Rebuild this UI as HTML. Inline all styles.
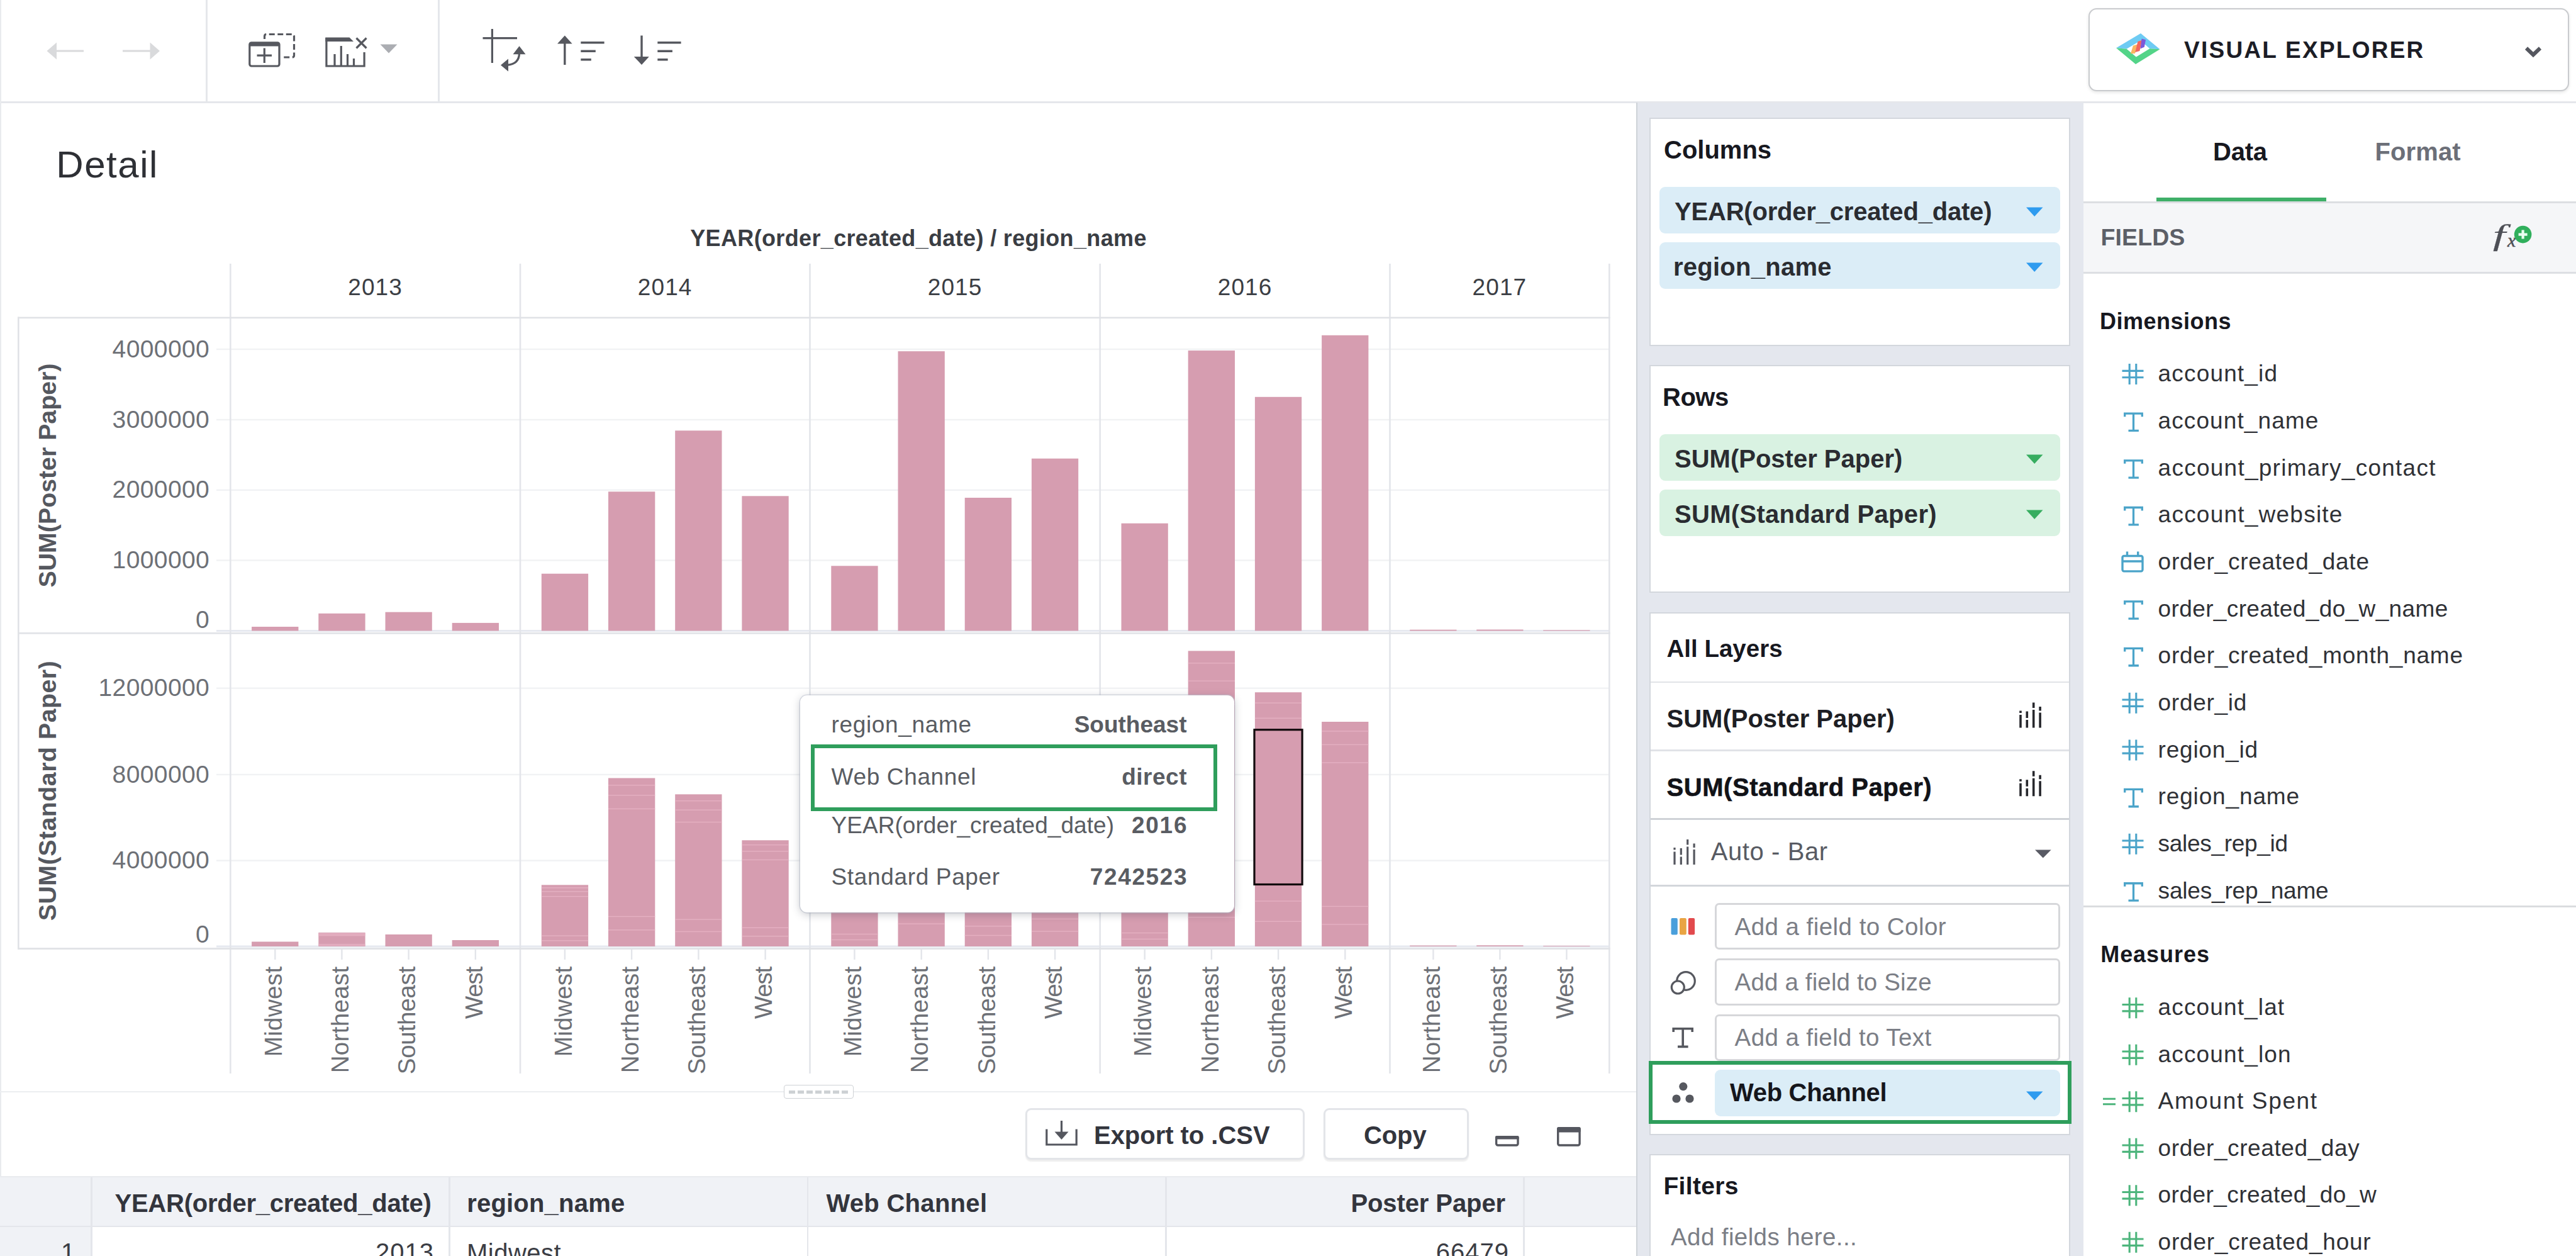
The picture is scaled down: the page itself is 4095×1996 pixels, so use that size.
<!DOCTYPE html><html><head><meta charset="utf-8"><title>Visual Explorer</title><style>
html,body{margin:0;padding:0;}
body{width:4095px;height:1996px;overflow:hidden;background:#fff;position:relative;font-family:"Liberation Sans",sans-serif;}
.t{position:absolute;white-space:pre;line-height:1;}
.a{position:absolute;}
svg{position:absolute;overflow:visible;}
</style></head><body>
<div id="toolbar" class="a" style="left:0;top:0;width:4095px;height:161px;background:#fff;border-bottom:3px solid #e5e7eb;"></div>
<div class="a" style="left:0;top:0;width:2px;height:1996px;background:#e9ebee;"></div>
<div class="a" style="left:327px;top:0;width:3px;height:161px;background:#e5e7eb;"></div>
<div class="a" style="left:696px;top:0;width:3px;height:161px;background:#e5e7eb;"></div>
<svg class="tb-icons" style="left:0;top:0" width="1200" height="161" viewBox="0 0 1200 161">
<g fill="#d9dadc" stroke="none">
 <rect x="88" y="79.5" width="45" height="3"/><path d="M74.5 81 L90 67.5 L90 94.5 Z"/>
 <rect x="195" y="79.5" width="45" height="3"/><path d="M254 81 L238.5 67.5 L238.5 94.5 Z"/>
</g>
<!-- duplicate -->
<g fill="none" stroke="#56585f" stroke-width="3.2">
 <path d="M420.5 66 V57.5 Q420.5 54.5 423.5 54.5 H464.5 Q467.5 54.5 467.5 57.5 V88 Q467.5 91 464.5 91 H451" stroke-dasharray="9 4.5" stroke-dashoffset="-4"/>
 <rect x="396.8" y="67.8" width="47.2" height="37.2" rx="3"/>
 <path d="M396.8 70.5 H444" stroke-width="6"/>
 <path d="M408.5 88.2 H432 M420.3 76.5 V100"/>
</g>
<!-- chart with x -->
<g fill="none" stroke="#56585f" stroke-width="3.2">
 <path d="M518.9 60 V105 H579.1 V83"/>
 <path d="M532 86 V105 M542.3 73 V105 M552.5 86 V105 M562.5 93 V105" />
 <path d="M566.5 60.5 L582.5 76.5 M582.5 60.5 L566.5 76.5"/>
</g>
<path d="M517.3 59.4 H555.5 L562 66 H517.3 Z" fill="#56585f"/>
<path d="M604.5 70.5 H631.5 L618 84.5 Z" fill="#abadb2"/>
<!-- swap -->
<g fill="none" stroke="#56585f" stroke-width="3.2">
 <path d="M782.4 46 V100 M767.5 60.7 H822"/>
 <path d="M806 103.4 Q825.5 102 825.5 84"/>
</g>
<path d="M796 103.4 L808 93.4 L808 113.4 Z M825.5 73.3 L815.5 86.3 L835.5 86.3 Z" fill="#56585f"/>
<!-- sort asc -->
<g fill="none" stroke="#56585f" stroke-width="3.4">
 <path d="M897.8 66 V103"/>
 <path d="M923.3 67.7 H960.6 M923.3 81.3 H946.8 M923.3 94.7 H939.8"/>
 <path d="M1020 56.5 V92"/>
 <path d="M1045.3 67.7 H1082.6 M1045.3 81.3 H1068.9 M1045.3 94.7 H1061.6"/>
</g>
<path d="M897.8 56.5 L886 69.5 H909.6 Z M1020 103 L1007.8 90 H1031.8 Z" fill="#56585f"/>
</svg>
<div id="ve" class="a" style="left:3320px;top:13px;width:760px;height:128px;border:2px solid #c9cbce;border-radius:13px;background:#fff;box-shadow:0 2px 5px rgba(0,0,0,.10);"></div>
<svg id="logo" style="left:3355px;top:45px" width="90" height="66" viewBox="3355 45 90 66">
<path d="M3364 76.2 L3403 53 L3433.5 78.2 L3417.4 77.2 L3402.9 64.4 L3380.6 77.8 Z" fill="#6ecbf3"/>
<path d="M3364 76.2 L3380.6 77.8 L3395.8 90.4 L3417.4 77.2 L3433.5 78.2 L3395 102 Z" fill="#53d488"/>
<path d="M3387 85.2 L3394 85 L3398 70.6 L3391 72.4 Z" fill="#fbb660"/>
<path d="M3394.2 83 L3401.4 81 L3405.2 63.8 L3398.4 66 Z" fill="#f3655f"/>
<path d="M3402.4 77.4 L3408.8 74.8 L3411 63.2 L3404.6 61.4 Z" fill="#7b58d9"/>
</svg>
<div class="t " style="top:61.2px;font-size:37px;font-weight:700;color:#1c1d26;letter-spacing:2.25px;left:3472.0px;">VISUAL EXPLORER</div>
<svg style="left:4008px;top:68px" width="40" height="30" viewBox="4008 68 40 30"><path d="M4016 76.5 L4027 87 L4038 76.5" fill="none" stroke="#55575f" stroke-width="6" stroke-linejoin="miter"/></svg>
<div class="t " style="top:231.8px;font-size:60px;font-weight:400;color:#2e3035;letter-spacing:1.55px;left:89.3px;">Detail</div>
<svg id="chart" style="left:0;top:0" width="2600" height="1740" viewBox="0 0 2600 1740" font-family='"Liberation Sans", sans-serif'>
<rect x="344" y="553.8" width="2214.3" height="2.4" fill="#f1f2f4"/>
<rect x="344" y="665.8" width="2214.3" height="2.4" fill="#f1f2f4"/>
<rect x="344" y="777.6" width="2214.3" height="2.4" fill="#f1f2f4"/>
<rect x="344" y="889.3" width="2214.3" height="2.4" fill="#f1f2f4"/>
<rect x="344" y="1092.5" width="2214.3" height="2.4" fill="#f1f2f4"/>
<rect x="344" y="1229.8" width="2214.3" height="2.4" fill="#f1f2f4"/>
<rect x="344" y="1366.4" width="2214.3" height="2.4" fill="#f1f2f4"/>
<rect x="344" y="1001.0" width="2214.3" height="3" fill="#e6e9f0"/>
<rect x="344" y="1502.5" width="2214.3" height="3" fill="#e6e9f0"/>
<rect x="365.0" y="419" width="2.6" height="1287" fill="#e3e5ea"/>
<rect x="825.7" y="419" width="2.6" height="1287" fill="#e3e5ea"/>
<rect x="1286.2" y="419" width="2.6" height="1287" fill="#e3e5ea"/>
<rect x="1747.4" y="419" width="2.6" height="1287" fill="#e3e5ea"/>
<rect x="2208.2" y="419" width="2.6" height="1287" fill="#e3e5ea"/>
<rect x="2557.0" y="419" width="2.6" height="1287" fill="#e3e5ea"/>
<rect x="28" y="503.6" width="2531.6" height="2.6" fill="#e0e2e6"/>
<rect x="28" y="1005" width="2531.6" height="2.6" fill="#e0e2e6"/>
<rect x="28" y="1506.2" width="2531.6" height="2.8" fill="#e0e2e6"/>
<rect x="28" y="503.6" width="2.6" height="1005.4" fill="#e0e2e6"/>
<rect x="400.1" y="996" width="74.3" height="6.5" fill="#d69db0"/>
<rect x="506.3" y="974.9" width="74.3" height="27.6" fill="#d69db0"/>
<rect x="612.5" y="972.7" width="74.3" height="29.8" fill="#d69db0"/>
<rect x="718.7" y="989.9" width="74.3" height="12.6" fill="#d69db0"/>
<rect x="400.1" y="1496.5" width="74.3" height="7.5" fill="#d69db0"/>
<rect x="506.3" y="1482" width="74.3" height="22.0" fill="#d69db0"/>
<rect x="506.3" y="1482.9" width="74.3" height="1.4" fill="#e8b4c6" opacity=".85"/>
<rect x="506.3" y="1484.2" width="74.3" height="1.4" fill="#e8b4c6" opacity=".85"/>
<rect x="506.3" y="1486.0" width="74.3" height="1.4" fill="#e8b4c6" opacity=".85"/>
<rect x="506.3" y="1500.0" width="74.3" height="1.4" fill="#e8b4c6" opacity=".85"/>
<rect x="506.3" y="1501.8" width="74.3" height="1.4" fill="#e8b4c6" opacity=".85"/>
<rect x="612.5" y="1485" width="74.3" height="19.0" fill="#d69db0"/>
<rect x="718.7" y="1494" width="74.3" height="10.0" fill="#d69db0"/>
<rect x="860.8" y="911.7" width="74.3" height="90.8" fill="#d69db0"/>
<rect x="967.0" y="781.3" width="74.3" height="221.2" fill="#d69db0"/>
<rect x="1073.2" y="684.3" width="74.3" height="318.2" fill="#d69db0"/>
<rect x="1179.4" y="788.3" width="74.3" height="214.2" fill="#d69db0"/>
<rect x="860.8" y="1406.3" width="74.3" height="97.7" fill="#d69db0"/>
<rect x="860.8" y="1410.2" width="74.3" height="1.4" fill="#e8b4c6" opacity=".85"/>
<rect x="860.8" y="1416.1" width="74.3" height="1.4" fill="#e8b4c6" opacity=".85"/>
<rect x="860.8" y="1423.9" width="74.3" height="1.4" fill="#e8b4c6" opacity=".85"/>
<rect x="860.8" y="1486.4" width="74.3" height="1.4" fill="#e8b4c6" opacity=".85"/>
<rect x="860.8" y="1494.2" width="74.3" height="1.4" fill="#e8b4c6" opacity=".85"/>
<rect x="967.0" y="1236.5" width="74.3" height="267.5" fill="#d69db0"/>
<rect x="967.0" y="1247.2" width="74.3" height="1.4" fill="#e8b4c6" opacity=".85"/>
<rect x="967.0" y="1263.2" width="74.3" height="1.4" fill="#e8b4c6" opacity=".85"/>
<rect x="967.0" y="1284.7" width="74.3" height="1.4" fill="#e8b4c6" opacity=".85"/>
<rect x="967.0" y="1455.8" width="74.3" height="1.4" fill="#e8b4c6" opacity=".85"/>
<rect x="967.0" y="1477.2" width="74.3" height="1.4" fill="#e8b4c6" opacity=".85"/>
<rect x="1073.2" y="1262.3" width="74.3" height="241.7" fill="#d69db0"/>
<rect x="1073.2" y="1272.0" width="74.3" height="1.4" fill="#e8b4c6" opacity=".85"/>
<rect x="1073.2" y="1286.5" width="74.3" height="1.4" fill="#e8b4c6" opacity=".85"/>
<rect x="1073.2" y="1305.8" width="74.3" height="1.4" fill="#e8b4c6" opacity=".85"/>
<rect x="1073.2" y="1460.5" width="74.3" height="1.4" fill="#e8b4c6" opacity=".85"/>
<rect x="1073.2" y="1479.8" width="74.3" height="1.4" fill="#e8b4c6" opacity=".85"/>
<rect x="1179.4" y="1335.3" width="74.3" height="168.7" fill="#d69db0"/>
<rect x="1179.4" y="1342.0" width="74.3" height="1.4" fill="#e8b4c6" opacity=".85"/>
<rect x="1179.4" y="1352.2" width="74.3" height="1.4" fill="#e8b4c6" opacity=".85"/>
<rect x="1179.4" y="1365.7" width="74.3" height="1.4" fill="#e8b4c6" opacity=".85"/>
<rect x="1179.4" y="1473.6" width="74.3" height="1.4" fill="#e8b4c6" opacity=".85"/>
<rect x="1179.4" y="1487.1" width="74.3" height="1.4" fill="#e8b4c6" opacity=".85"/>
<rect x="1321.3" y="899.3" width="74.3" height="103.2" fill="#d69db0"/>
<rect x="1427.5" y="558.2" width="74.3" height="444.3" fill="#d69db0"/>
<rect x="1533.7" y="791" width="74.3" height="211.5" fill="#d69db0"/>
<rect x="1639.9" y="728.7" width="74.3" height="273.8" fill="#d69db0"/>
<rect x="1321.3" y="1392" width="74.3" height="112.0" fill="#d69db0"/>
<rect x="1321.3" y="1396.5" width="74.3" height="1.4" fill="#e8b4c6" opacity=".85"/>
<rect x="1321.3" y="1403.2" width="74.3" height="1.4" fill="#e8b4c6" opacity=".85"/>
<rect x="1321.3" y="1412.2" width="74.3" height="1.4" fill="#e8b4c6" opacity=".85"/>
<rect x="1321.3" y="1483.8" width="74.3" height="1.4" fill="#e8b4c6" opacity=".85"/>
<rect x="1321.3" y="1492.8" width="74.3" height="1.4" fill="#e8b4c6" opacity=".85"/>
<rect x="1427.5" y="1138" width="74.3" height="366.0" fill="#d69db0"/>
<rect x="1427.5" y="1152.6" width="74.3" height="1.4" fill="#e8b4c6" opacity=".85"/>
<rect x="1427.5" y="1174.6" width="74.3" height="1.4" fill="#e8b4c6" opacity=".85"/>
<rect x="1427.5" y="1203.9" width="74.3" height="1.4" fill="#e8b4c6" opacity=".85"/>
<rect x="1427.5" y="1438.1" width="74.3" height="1.4" fill="#e8b4c6" opacity=".85"/>
<rect x="1427.5" y="1467.4" width="74.3" height="1.4" fill="#e8b4c6" opacity=".85"/>
<rect x="1533.7" y="1322" width="74.3" height="182.0" fill="#d69db0"/>
<rect x="1533.7" y="1329.3" width="74.3" height="1.4" fill="#e8b4c6" opacity=".85"/>
<rect x="1533.7" y="1340.2" width="74.3" height="1.4" fill="#e8b4c6" opacity=".85"/>
<rect x="1533.7" y="1354.8" width="74.3" height="1.4" fill="#e8b4c6" opacity=".85"/>
<rect x="1533.7" y="1471.2" width="74.3" height="1.4" fill="#e8b4c6" opacity=".85"/>
<rect x="1533.7" y="1485.8" width="74.3" height="1.4" fill="#e8b4c6" opacity=".85"/>
<rect x="1639.9" y="1258" width="74.3" height="246.0" fill="#d69db0"/>
<rect x="1639.9" y="1267.8" width="74.3" height="1.4" fill="#e8b4c6" opacity=".85"/>
<rect x="1639.9" y="1282.6" width="74.3" height="1.4" fill="#e8b4c6" opacity=".85"/>
<rect x="1639.9" y="1302.3" width="74.3" height="1.4" fill="#e8b4c6" opacity=".85"/>
<rect x="1639.9" y="1459.7" width="74.3" height="1.4" fill="#e8b4c6" opacity=".85"/>
<rect x="1639.9" y="1479.4" width="74.3" height="1.4" fill="#e8b4c6" opacity=".85"/>
<rect x="1782.5" y="831.7" width="74.3" height="170.8" fill="#d69db0"/>
<rect x="1888.7" y="557.1" width="74.3" height="445.4" fill="#d69db0"/>
<rect x="1994.9" y="630.8" width="74.3" height="371.7" fill="#d69db0"/>
<rect x="2101.1" y="532.8" width="74.3" height="469.7" fill="#d69db0"/>
<rect x="1782.5" y="1381" width="74.3" height="123.0" fill="#d69db0"/>
<rect x="1782.5" y="1385.9" width="74.3" height="1.4" fill="#e8b4c6" opacity=".85"/>
<rect x="1782.5" y="1393.3" width="74.3" height="1.4" fill="#e8b4c6" opacity=".85"/>
<rect x="1782.5" y="1403.1" width="74.3" height="1.4" fill="#e8b4c6" opacity=".85"/>
<rect x="1782.5" y="1481.9" width="74.3" height="1.4" fill="#e8b4c6" opacity=".85"/>
<rect x="1782.5" y="1491.7" width="74.3" height="1.4" fill="#e8b4c6" opacity=".85"/>
<rect x="1888.7" y="1034.4" width="74.3" height="469.6" fill="#d69db0"/>
<rect x="1888.7" y="1053.2" width="74.3" height="1.4" fill="#e8b4c6" opacity=".85"/>
<rect x="1888.7" y="1081.4" width="74.3" height="1.4" fill="#e8b4c6" opacity=".85"/>
<rect x="1888.7" y="1118.9" width="74.3" height="1.4" fill="#e8b4c6" opacity=".85"/>
<rect x="1888.7" y="1419.5" width="74.3" height="1.4" fill="#e8b4c6" opacity=".85"/>
<rect x="1888.7" y="1457.0" width="74.3" height="1.4" fill="#e8b4c6" opacity=".85"/>
<rect x="1994.9" y="1100.2" width="74.3" height="403.8" fill="#d69db0"/>
<rect x="1994.9" y="1116.4" width="74.3" height="1.4" fill="#e8b4c6" opacity=".85"/>
<rect x="1994.9" y="1140.6" width="74.3" height="1.4" fill="#e8b4c6" opacity=".85"/>
<rect x="1994.9" y="1172.9" width="74.3" height="1.4" fill="#e8b4c6" opacity=".85"/>
<rect x="1994.9" y="1431.3" width="74.3" height="1.4" fill="#e8b4c6" opacity=".85"/>
<rect x="1994.9" y="1463.6" width="74.3" height="1.4" fill="#e8b4c6" opacity=".85"/>
<rect x="2101.1" y="1147" width="74.3" height="357.0" fill="#d69db0"/>
<rect x="2101.1" y="1161.3" width="74.3" height="1.4" fill="#e8b4c6" opacity=".85"/>
<rect x="2101.1" y="1182.7" width="74.3" height="1.4" fill="#e8b4c6" opacity=".85"/>
<rect x="2101.1" y="1211.3" width="74.3" height="1.4" fill="#e8b4c6" opacity=".85"/>
<rect x="2101.1" y="1439.7" width="74.3" height="1.4" fill="#e8b4c6" opacity=".85"/>
<rect x="2101.1" y="1468.3" width="74.3" height="1.4" fill="#e8b4c6" opacity=".85"/>
<rect x="2241.2" y="1000.7" width="74.3" height="1.8" fill="#d69db0"/>
<rect x="2347.2" y="1000.5" width="74.3" height="2.0" fill="#d69db0"/>
<rect x="2453.2" y="1001.3" width="74.3" height="1.2" fill="#d69db0"/>
<rect x="2241.2" y="1502.6" width="74.3" height="1.4" fill="#d69db0"/>
<rect x="2347.2" y="1502.3" width="74.3" height="1.7" fill="#d69db0"/>
<rect x="2453.2" y="1503" width="74.3" height="1.0" fill="#d69db0"/>
<rect x="1994.0" y="1159.7" width="76.1" height="245.8" fill="#d69db0" stroke="#120a0d" stroke-width="3.2"/>
<rect x="436.1" y="1509" width="2.4" height="16" fill="#e3e5ea"/>
<text transform="translate(447.9,1535.8) rotate(-90)" text-anchor="end" font-size="38.5" textLength="143.5" lengthAdjust="spacing" fill="#6d7076">Midwest</text>
<rect x="542.2" y="1509" width="2.4" height="16" fill="#e3e5ea"/>
<text transform="translate(554.1,1535.8) rotate(-90)" text-anchor="end" font-size="38.5" textLength="169.5" lengthAdjust="spacing" fill="#6d7076">Northeast</text>
<rect x="648.4" y="1509" width="2.4" height="16" fill="#e3e5ea"/>
<text transform="translate(660.2,1535.8) rotate(-90)" text-anchor="end" font-size="38.5" textLength="171.5" lengthAdjust="spacing" fill="#6d7076">Southeast</text>
<rect x="754.6" y="1509" width="2.4" height="16" fill="#e3e5ea"/>
<text transform="translate(766.5,1535.8) rotate(-90)" text-anchor="end" font-size="38.5" textLength="83.5" lengthAdjust="spacing" fill="#6d7076">West</text>
<rect x="896.7" y="1509" width="2.4" height="16" fill="#e3e5ea"/>
<text transform="translate(908.5,1535.8) rotate(-90)" text-anchor="end" font-size="38.5" textLength="143.5" lengthAdjust="spacing" fill="#6d7076">Midwest</text>
<rect x="1002.9" y="1509" width="2.4" height="16" fill="#e3e5ea"/>
<text transform="translate(1014.8,1535.8) rotate(-90)" text-anchor="end" font-size="38.5" textLength="169.5" lengthAdjust="spacing" fill="#6d7076">Northeast</text>
<rect x="1109.2" y="1509" width="2.4" height="16" fill="#e3e5ea"/>
<text transform="translate(1121.0,1535.8) rotate(-90)" text-anchor="end" font-size="38.5" textLength="171.5" lengthAdjust="spacing" fill="#6d7076">Southeast</text>
<rect x="1215.4" y="1509" width="2.4" height="16" fill="#e3e5ea"/>
<text transform="translate(1227.2,1535.8) rotate(-90)" text-anchor="end" font-size="38.5" textLength="83.5" lengthAdjust="spacing" fill="#6d7076">West</text>
<rect x="1357.2" y="1509" width="2.4" height="16" fill="#e3e5ea"/>
<text transform="translate(1369.0,1535.8) rotate(-90)" text-anchor="end" font-size="38.5" textLength="143.5" lengthAdjust="spacing" fill="#6d7076">Midwest</text>
<rect x="1463.5" y="1509" width="2.4" height="16" fill="#e3e5ea"/>
<text transform="translate(1475.2,1535.8) rotate(-90)" text-anchor="end" font-size="38.5" textLength="169.5" lengthAdjust="spacing" fill="#6d7076">Northeast</text>
<rect x="1569.7" y="1509" width="2.4" height="16" fill="#e3e5ea"/>
<text transform="translate(1581.5,1535.8) rotate(-90)" text-anchor="end" font-size="38.5" textLength="171.5" lengthAdjust="spacing" fill="#6d7076">Southeast</text>
<rect x="1675.9" y="1509" width="2.4" height="16" fill="#e3e5ea"/>
<text transform="translate(1687.7,1535.8) rotate(-90)" text-anchor="end" font-size="38.5" textLength="83.5" lengthAdjust="spacing" fill="#6d7076">West</text>
<rect x="1818.5" y="1509" width="2.4" height="16" fill="#e3e5ea"/>
<text transform="translate(1830.2,1535.8) rotate(-90)" text-anchor="end" font-size="38.5" textLength="143.5" lengthAdjust="spacing" fill="#6d7076">Midwest</text>
<rect x="1924.7" y="1509" width="2.4" height="16" fill="#e3e5ea"/>
<text transform="translate(1936.5,1535.8) rotate(-90)" text-anchor="end" font-size="38.5" textLength="169.5" lengthAdjust="spacing" fill="#6d7076">Northeast</text>
<rect x="2030.9" y="1509" width="2.4" height="16" fill="#e3e5ea"/>
<text transform="translate(2042.7,1535.8) rotate(-90)" text-anchor="end" font-size="38.5" textLength="171.5" lengthAdjust="spacing" fill="#6d7076">Southeast</text>
<rect x="2137.1" y="1509" width="2.4" height="16" fill="#e3e5ea"/>
<text transform="translate(2148.8,1535.8) rotate(-90)" text-anchor="end" font-size="38.5" textLength="83.5" lengthAdjust="spacing" fill="#6d7076">West</text>
<rect x="2277.2" y="1509" width="2.4" height="16" fill="#e3e5ea"/>
<text transform="translate(2288.9,1535.8) rotate(-90)" text-anchor="end" font-size="38.5" textLength="169.5" lengthAdjust="spacing" fill="#6d7076">Northeast</text>
<rect x="2383.2" y="1509" width="2.4" height="16" fill="#e3e5ea"/>
<text transform="translate(2394.9,1535.8) rotate(-90)" text-anchor="end" font-size="38.5" textLength="171.5" lengthAdjust="spacing" fill="#6d7076">Southeast</text>
<rect x="2489.2" y="1509" width="2.4" height="16" fill="#e3e5ea"/>
<text transform="translate(2500.9,1535.8) rotate(-90)" text-anchor="end" font-size="38.5" textLength="83.5" lengthAdjust="spacing" fill="#6d7076">West</text>
<text x="333.2" y="567.6" text-anchor="end" font-size="39" letter-spacing="0.4" fill="#6d7076">4000000</text>
<text x="333.2" y="679.6" text-anchor="end" font-size="39" letter-spacing="0.4" fill="#6d7076">3000000</text>
<text x="333.2" y="791.4" text-anchor="end" font-size="39" letter-spacing="0.4" fill="#6d7076">2000000</text>
<text x="333.2" y="903.1" text-anchor="end" font-size="39" letter-spacing="0.4" fill="#6d7076">1000000</text>
<text x="333.2" y="997.6" text-anchor="end" font-size="39" letter-spacing="0.4" fill="#6d7076">0</text>
<text x="333.2" y="1106.3" text-anchor="end" font-size="39" letter-spacing="0.4" fill="#6d7076">12000000</text>
<text x="333.2" y="1243.6" text-anchor="end" font-size="39" letter-spacing="0.4" fill="#6d7076">8000000</text>
<text x="333.2" y="1380.2" text-anchor="end" font-size="39" letter-spacing="0.4" fill="#6d7076">4000000</text>
<text x="333.2" y="1498.2" text-anchor="end" font-size="39" letter-spacing="0.4" fill="#6d7076">0</text>
<text transform="translate(89.2,755.5) rotate(-90)" text-anchor="middle" font-size="39.3" font-weight="700" fill="#55585f">SUM(Poster Paper)</text>
<text transform="translate(89.2,1256.5) rotate(-90)" text-anchor="middle" font-size="39.3" font-weight="700" letter-spacing="0.5" fill="#55585f">SUM(Standard Paper)</text>
<text x="596.6" y="469" text-anchor="middle" font-size="37" letter-spacing="1.1" fill="#3b3e44">2013</text>
<text x="1057.2" y="469" text-anchor="middle" font-size="37" letter-spacing="1.1" fill="#3b3e44">2014</text>
<text x="1518.1" y="469" text-anchor="middle" font-size="37" letter-spacing="1.1" fill="#3b3e44">2015</text>
<text x="1979.1" y="469" text-anchor="middle" font-size="37" letter-spacing="1.1" fill="#3b3e44">2016</text>
<text x="2383.9" y="469" text-anchor="middle" font-size="37" letter-spacing="1.1" fill="#3b3e44">2017</text>
<text x="1460" y="391.4" text-anchor="middle" font-size="36" font-weight="700" letter-spacing="0.35" fill="#3a3d43">YEAR(order_created_date) / region_name</text>
</svg>
<div id="tooltip" class="a" style="left:1272px;top:1104.5px;width:690px;height:345px;background:#fff;border-radius:11px;box-shadow:0 3px 14px rgba(40,45,60,.26),0 0 0 1.5px rgba(200,206,218,.55);"></div>
<div class="a" style="left:1289.4px;top:1182.8px;width:645.6px;height:106.2px;border:6.6px solid #2f9e5c;box-sizing:border-box;"></div>
<div class="t " style="top:1133.4px;font-size:37px;font-weight:400;color:#595c62;letter-spacing:0.65px;left:1321.5px;">region_name</div>
<div class="t " style="top:1133.4px;font-size:37px;font-weight:700;color:#595c62;left:1886.5px;transform:translateX(-100%);">Southeast</div>
<div class="t " style="top:1215.9px;font-size:37px;font-weight:400;color:#595c62;letter-spacing:0.65px;left:1321.5px;">Web Channel</div>
<div class="t " style="top:1215.9px;font-size:37px;font-weight:700;color:#595c62;letter-spacing:0.5px;left:1887.0px;transform:translateX(-100%);">direct</div>
<div class="t " style="top:1293.3px;font-size:37px;font-weight:400;color:#595c62;letter-spacing:0.05px;left:1321.5px;">YEAR(order_created_date)</div>
<div class="t " style="top:1293.3px;font-size:37px;font-weight:700;color:#595c62;letter-spacing:1.7px;left:1888.2px;transform:translateX(-100%);">2016</div>
<div class="t " style="top:1375.0px;font-size:37px;font-weight:400;color:#595c62;letter-spacing:0.65px;left:1321.5px;">Standard Paper</div>
<div class="t " style="top:1375.0px;font-size:37px;font-weight:700;color:#595c62;letter-spacing:1.6px;left:1888.1px;transform:translateX(-100%);">7242523</div>
<div class="a" style="left:0;top:1733.7px;width:2601px;height:2.6px;background:#eceef1;"></div>
<div class="a" style="left:1245.5px;top:1724px;width:109px;height:20px;border:1.6px solid #cfd2d6;border-radius:4px;background:#fff;"></div>
<div class="a" style="left:1254px;top:1732.5px;width:94px;height:5px;background:repeating-linear-gradient(90deg,#cdd1d4 0 10px,transparent 10px 14px);"></div>
<div id="btn-export" class="a" style="left:1629.5px;top:1761.3px;width:444.5px;height:81.5px;border:3px solid #e3e5e9;border-radius:9px;background:#fff;box-shadow:0 3px 2px rgba(0,0,0,.07);box-sizing:border-box;"></div>
<div id="btn-copy" class="a" style="left:2103.7px;top:1761.3px;width:231.6px;height:81.5px;border:3px solid #e3e5e9;border-radius:9px;background:#fff;box-shadow:0 3px 2px rgba(0,0,0,.07);box-sizing:border-box;"></div>
<svg style="left:1655px;top:1775px" width="64" height="52" viewBox="1655 1775 64 52">
<path d="M1663.8 1794.5 V1819 H1711.2 V1794.5" fill="none" stroke="#55575f" stroke-width="3.2"/>
<path d="M1687.5 1781 V1803" fill="none" stroke="#55575f" stroke-width="3.2"/>
<path d="M1676.5 1798.5 H1698.5 L1687.5 1811 Z" fill="#55575f"/></svg>
<div class="t " style="top:1784.1px;font-size:40px;font-weight:700;color:#33353d;letter-spacing:-0.03px;left:1739.0px;">Export to .CSV</div>
<div class="t " style="top:1784.1px;font-size:40px;font-weight:700;color:#33353d;letter-spacing:-0.1px;left:2168.0px;">Copy</div>
<svg style="left:2370px;top:1785px" width="150" height="44" viewBox="2370 1785 150 44">
<rect x="2378.6" y="1806.6" width="34.4" height="13.4" rx="2.5" fill="none" stroke="#55575f" stroke-width="3.4"/>
<rect x="2376.9" y="1804.9" width="37.8" height="5.6" rx="2" fill="#55575f"/>
<rect x="2476.7" y="1792.8" width="34.4" height="27.2" rx="2.5" fill="none" stroke="#55575f" stroke-width="3.4"/>
<rect x="2475" y="1791" width="37.8" height="8.5" rx="2.5" fill="#55575f"/>
</svg>
<div id="thead" class="a" style="left:0;top:1868.5px;width:2601px;height:81.5px;background:#f0f2f6;border-top:2.6px solid #e9ebef;border-bottom:2.6px solid #e4e6eb;box-sizing:border-box;"></div>
<div class="a" style="left:0;top:1950px;width:145.6px;height:46px;background:#f0f2f6;"></div>
<div class="a" style="left:144.3px;top:1871px;width:2.6px;height:125px;background:#e4e6eb;"></div>
<div class="a" style="left:713.0px;top:1871px;width:2.6px;height:125px;background:#e4e6eb;"></div>
<div class="a" style="left:1282.5px;top:1871px;width:2.6px;height:125px;background:#e4e6eb;"></div>
<div class="a" style="left:1852.1px;top:1871px;width:2.6px;height:125px;background:#e4e6eb;"></div>
<div class="a" style="left:2421.1px;top:1871px;width:2.6px;height:125px;background:#e4e6eb;"></div>
<div class="t " style="top:1891.9px;font-size:40px;font-weight:700;color:#33353d;letter-spacing:-0.25px;left:182.5px;">YEAR(order_created_date)</div>
<div class="t " style="top:1891.9px;font-size:40px;font-weight:700;color:#33353d;letter-spacing:0.2px;left:742.2px;">region_name</div>
<div class="t " style="top:1891.9px;font-size:40px;font-weight:700;color:#33353d;letter-spacing:0.3px;left:1313.4px;">Web Channel</div>
<div class="t " style="top:1891.9px;font-size:40px;font-weight:700;color:#33353d;letter-spacing:-0.1px;left:2393.0px;transform:translateX(-100%);">Poster Paper</div>
<div class="t " style="top:1969.6px;font-size:40px;font-weight:400;color:#3b3d44;letter-spacing:1px;left:97.0px;">1</div>
<div class="t " style="top:1969.6px;font-size:40px;font-weight:400;color:#3b3d44;letter-spacing:1px;left:690.0px;transform:translateX(-100%);">2013</div>
<div class="t " style="top:1970.6px;font-size:40px;font-weight:400;color:#3b3d44;letter-spacing:0.5px;left:742.0px;">Midwest</div>
<div class="t " style="top:1969.6px;font-size:40px;font-weight:400;color:#3b3d44;letter-spacing:1px;left:2399.0px;transform:translateX(-100%);">66479</div>
<div id="mid" class="a" style="left:2600.6px;top:162.5px;width:711.4px;height:1834px;background:#e4e7ee;border-left:2.6px solid #ced2d8;box-sizing:border-box;"></div>
<div id="card-columns" class="a" style="left:2622px;top:186.5px;width:669px;height:363px;background:#fff;border:2.6px solid #d3d7dd;box-sizing:border-box;"></div>
<div id="card-rows" class="a" style="left:2622px;top:579.5px;width:669px;height:362px;background:#fff;border:2.6px solid #d3d7dd;box-sizing:border-box;"></div>
<div id="card-layers" class="a" style="left:2622px;top:972.5px;width:669px;height:831px;background:#fff;border:2.6px solid #d3d7dd;box-sizing:border-box;"></div>
<div id="card-filters" class="a" style="left:2622px;top:1833.5px;width:669px;height:200px;background:#fff;border:2.6px solid #d3d7dd;box-sizing:border-box;"></div>
<div class="t " style="top:217.9px;font-size:40px;font-weight:700;color:#17181f;left:2645.0px;">Columns</div>
<div class="t " style="top:611.1px;font-size:40px;font-weight:700;color:#17181f;letter-spacing:-0.5px;left:2643.0px;">Rows</div>
<div class="a pill" style="left:2638px;top:297px;width:637px;height:74px;border-radius:9px;background:#dbedf7;"></div>
<div class="t " style="top:316.3px;font-size:40px;font-weight:700;color:#2a2c31;letter-spacing:-0.2px;left:2662.0px;">YEAR(order_created_date)</div>
<svg style="left:3219px;top:327px" width="30" height="18" viewBox="0 0 30 18"><path d="M2 2.5 H28.5 L15.2 17 Z" fill="#2e9bef"/></svg>
<div class="a pill" style="left:2638px;top:385px;width:637px;height:74px;border-radius:9px;background:#dbedf7;"></div>
<div class="t " style="top:404.3px;font-size:40px;font-weight:700;color:#2a2c31;letter-spacing:0.25px;left:2660.0px;">region_name</div>
<svg style="left:3219px;top:415px" width="30" height="18" viewBox="0 0 30 18"><path d="M2 2.5 H28.5 L15.2 17 Z" fill="#2e9bef"/></svg>
<div class="a pill" style="left:2638px;top:690px;width:637px;height:74px;border-radius:9px;background:#d9f2e2;"></div>
<div class="t " style="top:709.3px;font-size:40px;font-weight:700;color:#2a2c31;left:2662.0px;">SUM(Poster Paper)</div>
<svg style="left:3219px;top:720px" width="30" height="18" viewBox="0 0 30 18"><path d="M2 2.5 H28.5 L15.2 17 Z" fill="#37ad60"/></svg>
<div class="a pill" style="left:2638px;top:778px;width:637px;height:74px;border-radius:9px;background:#d9f2e2;"></div>
<div class="t " style="top:797.3px;font-size:40px;font-weight:700;color:#2a2c31;letter-spacing:0.3px;left:2662.0px;">SUM(Standard Paper)</div>
<svg style="left:3219px;top:808px" width="30" height="18" viewBox="0 0 30 18"><path d="M2 2.5 H28.5 L15.2 17 Z" fill="#37ad60"/></svg>
<div class="t " style="top:1012.4px;font-size:38.5px;font-weight:700;color:#17181f;left:2649.5px;">All Layers</div>
<div class="a" style="left:2624px;top:1082.8px;width:665px;height:2.6px;background:#e1e3e7;"></div>
<div class="a" style="left:2624px;top:1191px;width:665px;height:2.6px;background:#e1e3e7;"></div>
<div class="a" style="left:2624px;top:1299.5px;width:665px;height:3px;background:#cfd2d7;"></div>
<div class="a" style="left:2624px;top:1405.5px;width:665px;height:3px;background:#d3d6db;"></div>
<div class="t " style="top:1122.4px;font-size:40px;font-weight:700;color:#1d1e24;left:2649.5px;">SUM(Poster Paper)</div>
<div class="t " style="top:1230.9px;font-size:40px;font-weight:700;color:#111217;letter-spacing:0.55px;left:2649.5px;-webkit-text-stroke:0.6px #111217;">SUM(Standard Paper)</div>
<svg style="left:0;top:0" width="4095" height="1996" viewBox="0 0 4095 1996" pointer-events="none"><g stroke="#26272c" stroke-width="3.6" fill="none"><path d="M3212 1156.6 V1136.1 M3212 1133.1 V1129.6"/><path d="M3222.3 1156.6 V1144.1 M3222.3 1141.1 V1130.6"/><path d="M3232.7 1156.6 V1128.1 M3232.7 1125.1 V1116.6"/><path d="M3243.1 1156.6 V1132.6 M3243.1 1129.6 V1123.1"/></g><g stroke="#26272c" stroke-width="3.6" fill="none"><path d="M3212 1265.2 V1244.7 M3212 1241.7 V1238.2"/><path d="M3222.3 1265.2 V1252.7 M3222.3 1249.7 V1239.2"/><path d="M3232.7 1265.2 V1236.7 M3232.7 1233.7 V1225.2"/><path d="M3243.1 1265.2 V1241.2 M3243.1 1238.2 V1231.7"/></g><g stroke="#55575f" stroke-width="3.2" fill="none"><path d="M2662 1374 V1353.5 M2662 1350.5 V1347"/><path d="M2672.3 1374 V1361.5 M2672.3 1358.5 V1348"/><path d="M2682.7 1374 V1345.5 M2682.7 1342.5 V1334"/><path d="M2693.1 1374 V1350 M2693.1 1347 V1340.5"/></g><path d="M3235 1350.6 H3260.6 L3247.8 1363.6 Z" fill="#585a64"/><rect x="2656.5" y="1459" width="10.3" height="26.5" rx="2" fill="#4a9fdb"/><rect x="2670" y="1459" width="10.8" height="26.5" rx="2" fill="#e9a443"/><rect x="2683.8" y="1459" width="10.3" height="26.5" rx="2" fill="#e24a4d"/><circle cx="2680" cy="1559" r="14.3" fill="none" stroke="#56585f" stroke-width="3.2"/><circle cx="2667.3" cy="1569" r="10" fill="#fff" stroke="#56585f" stroke-width="3.2"/><path d="M2660.2 1640 V1634.8 H2690.2 V1640 M2675.2 1634.8 V1663.2 M2667 1663.4 H2683.6" fill="none" stroke="#56585f" stroke-width="3.6"/><circle cx="2675.8" cy="1726.6" r="6.6" fill="#56585f"/><circle cx="2665" cy="1746" r="6.6" fill="#56585f"/><circle cx="2686" cy="1746" r="6.6" fill="#56585f"/></svg>
<div class="t " style="top:1333.1px;font-size:40px;font-weight:400;color:#585b63;letter-spacing:0.6px;left:2719.7px;">Auto - Bar</div>
<div class="a inp" style="left:2726px;top:1435px;width:549px;height:74.3px;border:3px solid #d6d7da;border-radius:7px;background:#fff;box-sizing:border-box;"></div>
<div class="t " style="top:1453.9px;font-size:38.5px;font-weight:400;color:#7b7e86;letter-spacing:0.45px;left:2757.6px;">Add a field to Color</div>
<div class="a inp" style="left:2726px;top:1523.3px;width:549px;height:74.3px;border:3px solid #d6d7da;border-radius:7px;background:#fff;box-sizing:border-box;"></div>
<div class="t " style="top:1542.2px;font-size:38.5px;font-weight:400;color:#7b7e86;letter-spacing:0.15px;left:2757.6px;">Add a field to Size</div>
<div class="a inp" style="left:2726px;top:1611.5px;width:549px;height:74.3px;border:3px solid #d6d7da;border-radius:7px;background:#fff;box-sizing:border-box;"></div>
<div class="t " style="top:1630.4px;font-size:38.5px;font-weight:400;color:#7b7e86;letter-spacing:0.4px;left:2757.6px;">Add a field to Text</div>
<div class="a" style="left:2726px;top:1700px;width:549px;height:73.7px;border-radius:9px;background:#dbedf7;"></div>
<div class="t " style="top:1715.7px;font-size:40px;font-weight:700;color:#15161c;letter-spacing:-0.3px;left:2750.0px;">Web Channel</div>
<svg style="left:3219px;top:1731.5px" width="30" height="18" viewBox="0 0 30 18"><path d="M2 2.5 H28.5 L15.2 16.5 Z" fill="#2e9bef"/></svg>
<div class="a" style="left:2621.3px;top:1686px;width:672px;height:100px;border:6.7px solid #2f9e5c;box-sizing:border-box;"></div>
<div class="t " style="top:1864.7px;font-size:39px;font-weight:700;color:#17181f;letter-spacing:0.35px;left:2644.4px;">Filters</div>
<div class="t " style="top:1947.2px;font-size:38.5px;font-weight:400;color:#7b7e86;letter-spacing:0.4px;left:2656.0px;">Add fields here...</div>
<div id="right" class="a" style="left:3312px;top:164px;width:783px;height:1832px;background:#fff;"></div>
<div class="t " style="top:221.1px;font-size:40px;font-weight:700;color:#17181f;letter-spacing:-0.2px;left:3518.0px;">Data</div>
<div class="t " style="top:221.1px;font-size:40px;font-weight:700;color:#6c6f78;letter-spacing:0.1px;left:3775.5px;">Format</div>
<div class="a" style="left:3312px;top:319.8px;width:783px;height:3px;background:#dcdee2;"></div>
<div class="a" style="left:3427.6px;top:313.6px;width:270.5px;height:6.6px;background:#3eaf68;"></div>
<div id="fields-head" class="a" style="left:3312px;top:322.8px;width:783px;height:112px;background:#f5f6f8;border-bottom:3px solid #dddfe3;box-sizing:border-box;"></div>
<div class="t " style="top:359.0px;font-size:37.5px;font-weight:700;color:#5c5f67;letter-spacing:0.1px;left:3339.5px;">FIELDS</div>
<div class="t" style="left:3962.5px;top:351px;font-family:'Liberation Serif',serif;font-style:italic;font-weight:400;font-size:46.5px;color:#4d4f56;-webkit-text-stroke:0.25px #4d4f56;transform:scaleX(1.55);transform-origin:0 0;">f</div>
<div class="t" style="left:3986px;top:367px;font-family:'Liberation Serif',serif;font-style:italic;font-weight:400;font-size:30px;color:#4d4f56;-webkit-text-stroke:0.5px #4d4f56;">x</div>
<svg style="left:3995px;top:357px" width="32" height="32" viewBox="0 0 32 32"><circle cx="15.6" cy="15.6" r="13.8" fill="#30af5c"/><path d="M8.6 15.6 H22.6 M15.6 8.6 V22.6" stroke="#e8fff0" stroke-width="4.2"/></svg>
<div class="t " style="top:492.9px;font-size:36px;font-weight:700;color:#17181f;letter-spacing:0.5px;left:3338.0px;">Dimensions</div>
<div id="dims" class="a" style="left:3312px;top:436px;width:783px;height:1003px;overflow:hidden;">
</div>
<div class="t " style="top:575.3px;font-size:37px;font-weight:400;color:#2f3136;letter-spacing:1.16px;left:3430.6px;">account_id</div>
<div class="t " style="top:649.9px;font-size:37px;font-weight:400;color:#2f3136;letter-spacing:1.09px;left:3430.6px;">account_name</div>
<div class="t " style="top:724.6px;font-size:37px;font-weight:400;color:#2f3136;letter-spacing:1.25px;left:3430.6px;">account_primary_contact</div>
<div class="t " style="top:799.3px;font-size:37px;font-weight:400;color:#2f3136;letter-spacing:1.23px;left:3430.6px;">account_website</div>
<div class="t " style="top:873.9px;font-size:37px;font-weight:400;color:#2f3136;letter-spacing:0.73px;left:3430.6px;">order_created_date</div>
<div class="t " style="top:948.6px;font-size:37px;font-weight:400;color:#2f3136;letter-spacing:0.37px;left:3430.6px;">order_created_do_w_name</div>
<div class="t " style="top:1023.2px;font-size:37px;font-weight:400;color:#2f3136;letter-spacing:0.76px;left:3430.6px;">order_created_month_name</div>
<div class="t " style="top:1097.9px;font-size:37px;font-weight:400;color:#2f3136;letter-spacing:0.7px;left:3430.6px;">order_id</div>
<div class="t " style="top:1172.6px;font-size:37px;font-weight:400;color:#2f3136;letter-spacing:0.77px;left:3430.6px;">region_id</div>
<div class="t " style="top:1247.2px;font-size:37px;font-weight:400;color:#2f3136;letter-spacing:0.85px;left:3430.6px;">region_name</div>
<div class="t " style="top:1321.9px;font-size:37px;font-weight:400;color:#2f3136;letter-spacing:-0.3px;left:3430.6px;">sales_rep_id</div>
<div class="t " style="top:1396.5px;font-size:37px;font-weight:400;color:#2f3136;letter-spacing:-0.19px;left:3430.6px;">sales_rep_name</div>
<div class="a" style="left:3312px;top:1438.6px;width:783px;height:3px;background:#dadcdf;z-index:3;"></div>
<div class="a" style="left:3312px;top:1441.6px;width:783px;height:14px;background:#fff;z-index:3;"></div>
<div class="t " style="top:1498.5px;font-size:36px;font-weight:700;color:#17181f;letter-spacing:0.95px;left:3339.2px;">Measures</div>
<div class="t " style="top:1582.4px;font-size:37px;font-weight:400;color:#2f3136;letter-spacing:1.13px;left:3430.6px;">account_lat</div>
<div class="t " style="top:1656.9px;font-size:37px;font-weight:400;color:#2f3136;letter-spacing:1.15px;left:3430.6px;">account_lon</div>
<div class="t " style="top:1731.4px;font-size:37px;font-weight:400;color:#2f3136;letter-spacing:1.64px;left:3430.6px;">Amount Spent</div>
<div class="t " style="top:1805.9px;font-size:37px;font-weight:400;color:#2f3136;letter-spacing:0.59px;left:3430.6px;">order_created_day</div>
<div class="t " style="top:1880.4px;font-size:37px;font-weight:400;color:#2f3136;letter-spacing:0.45px;left:3430.6px;">order_created_do_w</div>
<div class="t " style="top:1954.9px;font-size:37px;font-weight:400;color:#2f3136;letter-spacing:0.77px;left:3430.6px;">order_created_hour</div>
<svg style="left:0;top:0" width="4095" height="1996" viewBox="0 0 4095 1996" pointer-events="none"><path d="M3373.5 589.4 H3407.5 M3373.5 599.8000000000001 H3407.5 M3385.2 578.1 V611.1 M3395.8 578.1 V611.1" fill="none" stroke="#4ba4c9" stroke-width="3.1"/><path d="M3377.7 662.16 V657.16 H3405.3 V662.16 M3391.5 657.16 V684.26 M3383.5 684.4599999999999 H3399.9" fill="none" stroke="#4ba4c9" stroke-width="3.3"/><path d="M3377.7 736.82 V731.82 H3405.3 V736.82 M3391.5 731.82 V758.9200000000001 M3383.5 759.12 H3399.9" fill="none" stroke="#4ba4c9" stroke-width="3.3"/><path d="M3377.7 811.48 V806.48 H3405.3 V811.48 M3391.5 806.48 V833.58 M3383.5 833.78 H3399.9" fill="none" stroke="#4ba4c9" stroke-width="3.3"/><rect x="3374" y="883.4399999999999" width="32" height="24.4" rx="2.5" fill="none" stroke="#4ba4c9" stroke-width="3.4"/><path d="M3374 892.04 H3406 M3381.5 876.54 V884.04 M3398.7 876.54 V884.04" fill="none" stroke="#4ba4c9" stroke-width="3.4"/><path d="M3377.7 960.8 V955.8 H3405.3 V960.8 M3391.5 955.8 V982.9 M3383.5 983.0999999999999 H3399.9" fill="none" stroke="#4ba4c9" stroke-width="3.3"/><path d="M3377.7 1035.46 V1030.46 H3405.3 V1035.46 M3391.5 1030.46 V1057.56 M3383.5 1057.76 H3399.9" fill="none" stroke="#4ba4c9" stroke-width="3.3"/><path d="M3373.5 1112.02 H3407.5 M3373.5 1122.42 H3407.5 M3385.2 1100.72 V1133.72 M3395.8 1100.72 V1133.72" fill="none" stroke="#4ba4c9" stroke-width="3.1"/><path d="M3373.5 1186.68 H3407.5 M3373.5 1197.0800000000002 H3407.5 M3385.2 1175.38 V1208.38 M3395.8 1175.38 V1208.38" fill="none" stroke="#4ba4c9" stroke-width="3.1"/><path d="M3377.7 1259.44 V1254.44 H3405.3 V1259.44 M3391.5 1254.44 V1281.54 M3383.5 1281.74 H3399.9" fill="none" stroke="#4ba4c9" stroke-width="3.3"/><path d="M3373.5 1335.9999999999998 H3407.5 M3373.5 1346.3999999999999 H3407.5 M3385.2 1324.6999999999998 V1357.6999999999998 M3395.8 1324.6999999999998 V1357.6999999999998" fill="none" stroke="#4ba4c9" stroke-width="3.1"/><path d="M3377.7 1408.7600000000002 V1403.7600000000002 H3405.3 V1408.7600000000002 M3391.5 1403.7600000000002 V1430.8600000000001 M3383.5 1431.0600000000002 H3399.9" fill="none" stroke="#4ba4c9" stroke-width="3.3"/><path d="M3373.5 1596.5 H3407.5 M3373.5 1606.9 H3407.5 M3385.2 1585.2 V1618.2 M3395.8 1585.2 V1618.2" fill="none" stroke="#4db57c" stroke-width="3.1"/><path d="M3373.5 1671.0 H3407.5 M3373.5 1681.4 H3407.5 M3385.2 1659.7 V1692.7 M3395.8 1659.7 V1692.7" fill="none" stroke="#4db57c" stroke-width="3.1"/><path d="M3373.5 1745.5 H3407.5 M3373.5 1755.9 H3407.5 M3385.2 1734.2 V1767.2 M3395.8 1734.2 V1767.2" fill="none" stroke="#4db57c" stroke-width="3.1"/><path d="M3343 1746.2 H3363 M3343 1754.7 H3363" stroke="#4db57c" stroke-width="3" fill="none"/><path d="M3373.5 1820.0 H3407.5 M3373.5 1830.4 H3407.5 M3385.2 1808.7 V1841.7 M3395.8 1808.7 V1841.7" fill="none" stroke="#4db57c" stroke-width="3.1"/><path d="M3373.5 1894.5 H3407.5 M3373.5 1904.9 H3407.5 M3385.2 1883.2 V1916.2 M3395.8 1883.2 V1916.2" fill="none" stroke="#4db57c" stroke-width="3.1"/><path d="M3373.5 1969.0 H3407.5 M3373.5 1979.4 H3407.5 M3385.2 1957.7 V1990.7 M3395.8 1957.7 V1990.7" fill="none" stroke="#4db57c" stroke-width="3.1"/></svg>
</body></html>
